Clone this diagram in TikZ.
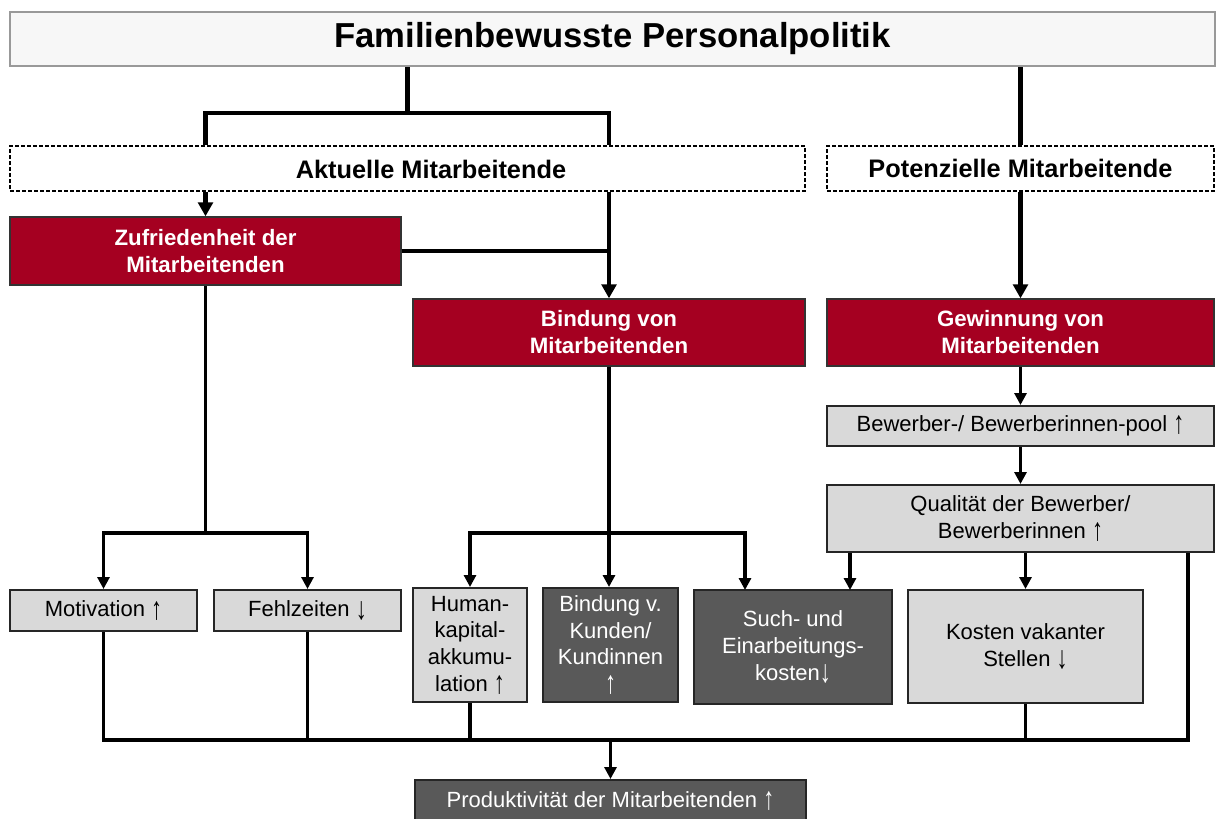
\documentclass[tikz,border=0pt]{standalone}
\usepackage{fontspec}
\setmainfont{Liberation Sans}
\usetikzlibrary{arrows.meta}
\definecolor{rot}{HTML}{A50021}
\definecolor{dgrau}{HTML}{595959}
\definecolor{hgrau}{HTML}{D9D9D9}
\newcommand{\hoch}{\raisebox{-0.1em}{\scalebox{1}[1.45]{↑}}}
\newcommand{\runter}{\raisebox{-0.1em}{\scalebox{1}[1.45]{↓}}}
\tikzset{
  sz/.style 2 args={minimum width=#1*0.75pt,minimum height=#2*0.75pt,inner sep=0pt},
  kasten/.style={draw=black!85,line width=1.5pt,align=center,font=\fontsize{16.5}{20}\selectfont},
  hell/.style={kasten,fill=hgrau},
  dunkel/.style={kasten,fill=dgrau,text=white},
  rotbox/.style={draw=black!80,line width=1pt,fill=rot,text=white,align=center,font=\fontsize{16.7}{20.2}\selectfont\bfseries},
  gruppe/.style={draw,line width=0.9pt,dash pattern=on 3pt off 1.5pt},
  lnk/.style={line width=3.2pt},
  lnkd/.style={line width=2.3pt},
  pfeil/.style={lnk,-{Triangle[length=10.5pt,width=11pt]}},
  pfeild/.style={lnkd,-{Triangle[length=9pt,width=9pt]}}
}
\begin{document}
\begin{tikzpicture}[x=0.75pt,y=-0.75pt]
\useasboundingbox (0,0) rectangle (1216,818);
%\draw[help lines,step=50] (0,0) grid (1216,818);
\node[draw=black!40,line width=1.5pt,fill=black!3,sz={1205}{54},font=\fontsize{26}{31}\selectfont\bfseries] (titel) at (612.5,39) {Familienbewusste Personalpolitik};
\node[gruppe,sz={795}{45}] (akt) at (407.5,168.5) {};
\node[font=\fontsize{19}{23}\selectfont\bfseries] (aktlbl) at (431,169) {Aktuelle Mitarbeitende};
\node[gruppe,sz={387}{45},font=\fontsize{19}{23}\selectfont\bfseries] (pot) at (1020.5,168.5) {Potenzielle Mitarbeitende};
\node[rotbox,sz={391}{68}] (zuf) at (205.5,251) {Zufriedenheit der\\Mitarbeitenden};
\node[rotbox,sz={392}{67}] (bind) at (609,332.5) {Bindung von\\Mitarbeitenden};
\node[rotbox,sz={387}{67}] (gew) at (1020.5,332.5) {Gewinnung von\\Mitarbeitenden};
\node[hell,sz={387}{40}] (pool) at (1020.5,426) {Bewerber-/ Bewerberinnen-pool \hoch};
\node[hell,sz={387}{67}] (qual) at (1020.5,518.5) {Qualität der Bewerber/\\Bewerberinnen \hoch};
\node[hell,sz={187}{41}] (mot) at (103.5,610.5) {Motivation \hoch};
\node[hell,sz={187}{41}] (fehl) at (307.5,610.5) {Fehlzeiten \runter};
\node[hell,sz={114}{114}] (hum) at (470,645) {Human-\\kapital-\\akkumu-\\lation \hoch};
\node[dunkel,sz={135}{114}] (kund) at (610.5,645) {Bindung v.\\Kunden/\\Kundinnen\\\hoch};
\node[dunkel,sz={198}{114}] (such) at (793,647) {Such- und\\Einarbeitungs-\\kosten\runter};
\node[hell,sz={235}{113}] (kost) at (1025.5,646.5) {Kosten vakanter\\Stellen \runter};
\node[dunkel,sz={391}{42}] (prod) at (610.5,801) {Produktivität der Mitarbeitenden \hoch};
\coordinate (ja) at (407.5,113);
\coordinate (ga) at (205.5,533);
\coordinate (gb) at (609,533);
\coordinate (in1) at (745,590);
\coordinate (in2) at (850,590);
\coordinate (bus) at (610.5,740);
\coordinate (busr) at (1188,740);
% oben
\draw[lnk] (titel.south -| ja) -- (ja);
\draw[lnk] (akt.north -| zuf.north) |- (ja) -| (akt.north -| bind.north);
\draw[lnk] (titel.south -| pot.north) -- (pot.north);
\draw[pfeil] (akt.south -| zuf.north) -- (zuf.north);
\draw[pfeil] (akt.south -| bind.north) -- (bind.north);
\draw[lnkd] (zuf.east) -- (zuf.east -| bind.north);
\draw[pfeil] (pot.south) -- (gew.north);
\draw[pfeild] (gew.south) -- (pool.north);
\draw[pfeild] (pool.south) -- (qual.north);
% unten
\draw[lnkd] (zuf.south) -- (ga);
\draw[pfeild] (ga) -| (mot.north);
\draw[pfeild] (ga) -| (fehl.north);
\draw[pfeild] (bind.south) -- (kund.north -| bind.south);
\draw[pfeild] (gb) -| (hum.north);
\draw[pfeild] (gb) -| (in1);
\draw[pfeild] (qual.south -| in2) -- (in2);
\draw[pfeild] (qual.south -| kost.north) -- (kost.north);
\draw[lnkd] (qual.south -| busr) -- (busr) -- (bus -| mot.south) -- (mot.south);
\draw[lnkd] (fehl.south) -- (fehl.south |- bus);
\draw[lnkd] (hum.south) -- (hum.south |- bus);
\draw[lnkd] (kost.south) -- (kost.south |- bus);
\draw[pfeild] (bus) -- (prod.north);
\end{tikzpicture}
\end{document}
